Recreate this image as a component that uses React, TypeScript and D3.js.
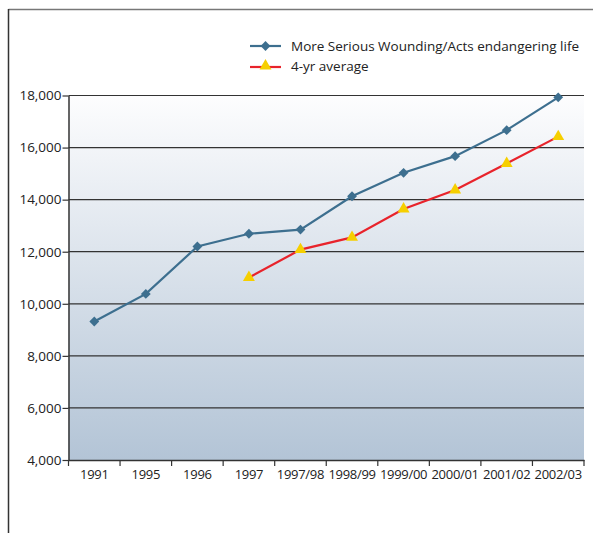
import React, { useRef, useEffect } from 'react';
import * as d3 from 'd3';

// categories on the x axis
const categories = ['1991', '1995', '1996', '1997', '1997/98', '1998/99', '1999/00', '2000/01', '2001/02', '2002/03'];
// More Serious Wounding/Acts endangering life
const woundingValues = [9320, 10380, 12200, 12690, 12850, 14130, 15030, 15670, 16670, 17930];
// 4-yr average, starts at 1997
const avgCategories = ['1997', '1997/98', '1998/99', '1999/00', '2000/01', '2001/02', '2002/03'];
const avgValues = [11010, 12080, 12550, 13640, 14370, 15390, 16420];
const yTicks = [4000, 6000, 8000, 10000, 12000, 14000, 16000, 18000];

const W = 593;
const H = 533;
const FONT = '"Open Sans", "Noto Sans", sans-serif';

export default function App() {
  const svgRef = useRef<SVGSVGElement>(null);

  useEffect(() => {
    const svg = d3.select(svgRef.current);
    svg.selectAll('*').remove();

    const left = 68.5;
    const right = 584;
    const top = 95.5;
    const bottom = 460;

    const x = d3.scaleBand().domain(categories).range([left, right]);
    const y = d3.scaleLinear().domain([4000, 18000]).range([bottom, top]);
    const cx = (c: string) => (x(c) as number) + x.bandwidth() / 2;

    // tło z gradientem
    const defs = svg.append('defs');
    const grad = defs.append('linearGradient').attr('id', 'bg').attr('x1', 0).attr('y1', 0).attr('x2', 0).attr('y2', 1);
    grad.append('stop').attr('offset', '0%').attr('stop-color', '#fdfdfe');
    grad.append('stop').attr('offset', '100%').attr('stop-color', '#b3c4d6');

    // ramka
    svg.append('line').attr('x1', 8.5).attr('x2', W).attr('y1', 9.5).attr('y2', 9.5)
      .attr('stroke', '#777').attr('stroke-width', 1.5);
    svg.append('line').attr('x1', 8.5).attr('x2', 8.5).attr('y1', 9).attr('y2', H)
      .attr('stroke', '#333').attr('stroke-width', 1.5);

    svg.append('rect').attr('x', left).attr('y', top).attr('width', right - left).attr('height', bottom - top)
      .attr('fill', 'url(#bg)');

    // gridlines
    svg.selectAll('.grid').data(yTicks.slice(1)).join('line').attr('class', 'grid')
      .attr('x1', left).attr('x2', right)
      .attr('y1', (d) => y(d)).attr('y2', (d) => y(d))
      .attr('stroke', '#333').attr('stroke-width', 1.2);

    // y axis
    const yAxis = svg.append('g').attr('transform', `translate(${left},0)`)
      .call(d3.axisLeft(y).tickValues(yTicks).tickSize(6).tickSizeOuter(0).tickFormat(d3.format(',')));
    yAxis.select('.domain').attr('stroke', '#333').attr('stroke-width', 1.5);
    yAxis.selectAll('.tick line').attr('stroke', '#333').attr('stroke-width', 1.2);
    yAxis.selectAll('text').attr('font-family', FONT).attr('font-size', 13.5).attr('fill', '#222').attr('x', -7);

    // x axis
    const xAxis = svg.append('g').attr('transform', `translate(0,${bottom})`)
      .call(d3.axisBottom(x).tickSize(0).tickSizeOuter(0));
    xAxis.select('.domain').attr('stroke', '#333').attr('stroke-width', 1.5);
    xAxis.selectAll('text').attr('font-family', FONT).attr('font-size', 13).attr('fill', '#222').attr('y', 10)
      .attr('letter-spacing', '-0.3');
    const xTickPos = categories.map((c) => x(c) as number).concat([right]);
    xAxis.selectAll('.xt').data(xTickPos).join('line').attr('class', 'xt')
      .attr('x1', (d) => d).attr('x2', (d) => d).attr('y1', 0).attr('y2', 6)
      .attr('stroke', '#333').attr('stroke-width', 1.2);

    const line = d3.line<[string, number]>().x((d) => cx(d[0])).y((d) => y(d[1]));

    const blueData: [string, number][] = categories.map((c, i) => [c, woundingValues[i]]);
    const redData: [string, number][] = avgCategories.map((c, i) => [c, avgValues[i]]);

    const blue = '#3d6f8f';
    const red = '#e8232b';
    const yellow = '#f6cf00';
    const diamond = d3.symbol().type(d3.symbolSquare).size(48)();
    const triangle = d3.symbol().type(d3.symbolTriangle).size(62)();

    svg.append('path').datum(redData).attr('d', line).attr('fill', 'none').attr('stroke', red).attr('stroke-width', 2.2);
    svg.selectAll('.tri').data(redData).join('path').attr('class', 'tri')
      .attr('d', triangle)
      .attr('transform', (d) => `translate(${cx(d[0])},${y(d[1])})`)
      .attr('fill', yellow);

    svg.append('path').datum(blueData).attr('d', line).attr('fill', 'none').attr('stroke', blue).attr('stroke-width', 2.2);
    svg.selectAll('.dia').data(blueData).join('path').attr('class', 'dia')
      .attr('d', diamond)
      .attr('transform', (d) => `translate(${cx(d[0])},${y(d[1])}) rotate(45)`)
      .attr('fill', blue);

    // legenda
    const lg = svg.append('g');
    lg.append('line').attr('x1', 250).attr('x2', 281).attr('y1', 46).attr('y2', 46).attr('stroke', blue).attr('stroke-width', 2.2);
    lg.append('path').attr('d', diamond).attr('transform', 'translate(265.5,46) rotate(45)').attr('fill', blue);
    lg.append('text').attr('x', 291).attr('y', 50.5).text('More Serious Wounding/Acts endangering life')
      .attr('font-family', FONT).attr('font-size', 13.5).attr('fill', '#222');
    lg.append('line').attr('x1', 250).attr('x2', 281).attr('y1', 67).attr('y2', 67).attr('stroke', red).attr('stroke-width', 2.2);
    lg.append('path').attr('d', triangle).attr('transform', 'translate(265.5,66)').attr('fill', yellow);
    lg.append('text').attr('x', 291).attr('y', 71).text('4-yr average')
      .attr('font-family', FONT).attr('font-size', 13.5).attr('fill', '#222');
  }, []);

  return (
    <div style={{ position: 'absolute', left: 0, top: 0 }}>
      <svg ref={svgRef} width={W} height={H} style={{ display: 'block' }} />
    </div>
  );
}
